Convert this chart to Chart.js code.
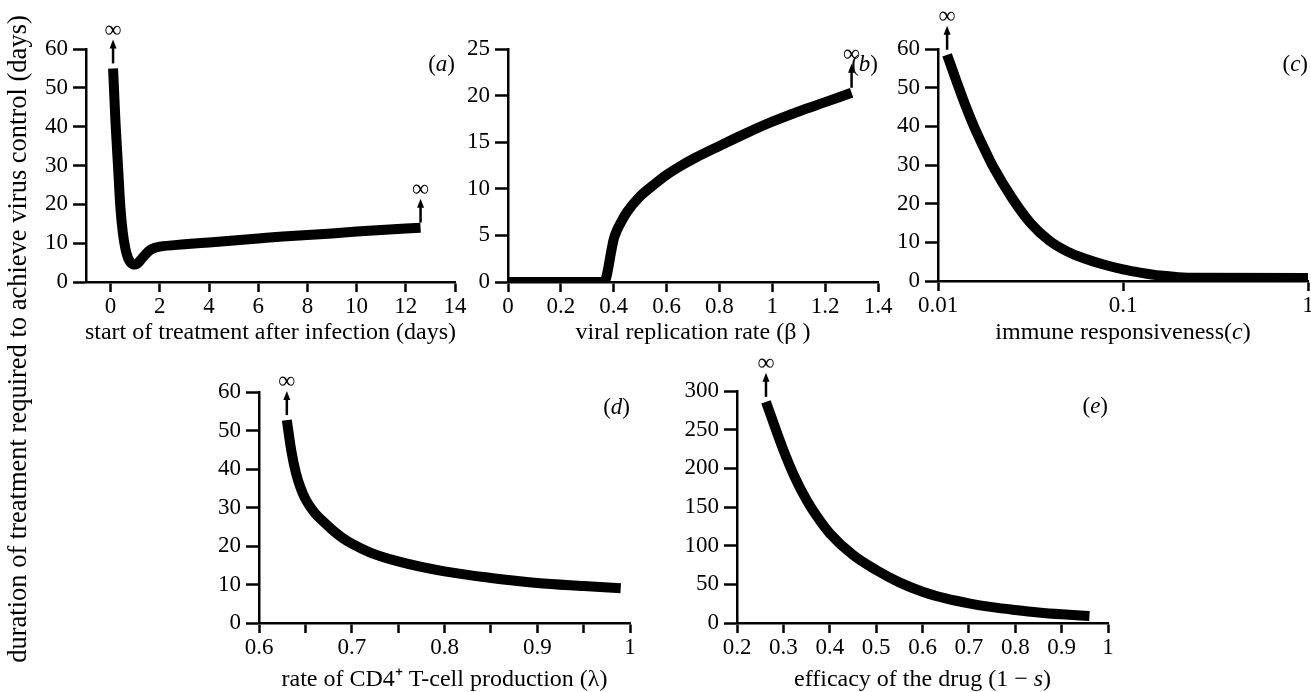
<!DOCTYPE html>
<html lang="en">
<head>
    <meta charset="UTF-8">
    <title>Duration of treatment required to achieve virus control</title>
    <script src="https://cdn.jsdelivr.net/npm/chart.js"></script>
    <style>
        html, body {
            margin: 0;
            padding: 0;
            background: #fff;
            overflow: hidden;
        }
        #page {
            position: relative;
            width: 1311px;
            height: 692px;
        }
        canvas {
            position: absolute;
        }
    </style>
</head>
<body>
    <div id="page">
        <canvas id="ytitle" width="40" height="692" style="left:0;top:0"></canvas>
    </div>

    <script>
        const Y_TITLE = 'duration of treatment required to achieve virus control (days)';

        // (a) start of treatment after infection
        const aX = [0.1, 0.15, 0.2, 0.3, 0.4, 0.5, 0.6, 0.7, 0.8, 0.9, 1.0, 1.1, 1.2, 1.4, 1.6, 1.8, 2, 3, 4, 5, 6, 7, 8, 9, 10, 11, 12, 12.6];
        const aY = [55, 48, 41, 30, 19, 12.5, 8.6, 6.3, 5.1, 4.6, 4.5, 4.8, 5.5, 7, 8.2, 8.8, 9.1, 9.7, 10.2, 10.7, 11.2, 11.7, 12.1, 12.5, 13.0, 13.4, 13.8, 14.0];
        const aXTicks = [0, 2, 4, 6, 8, 10, 12, 14];
        const aYTicks = [0, 10, 20, 30, 40, 50, 60];

        // (b) viral replication rate
        const bX = [0, 0.1, 0.2, 0.3, 0.36, 0.37, 0.38, 0.39, 0.4, 0.41, 0.42, 0.45, 0.5, 0.55, 0.6, 0.65, 0.7, 0.8, 0.9, 1.0, 1.1, 1.2, 1.3];
        const bY = [0, 0, 0, 0, 0, 0.3, 1.6, 3.2, 4.6, 5.4, 6.0, 7.5, 9.2, 10.4, 11.5, 12.4, 13.2, 14.6, 15.95, 17.2, 18.3, 19.3, 20.3];
        const bXTicks = [0, 0.2, 0.4, 0.6, 0.8, 1, 1.2, 1.4];
        const bYTicks = [0, 5, 10, 15, 20, 25];

        // (c) immune responsiveness (log axis)
        const cX = [0.0112, 0.0126, 0.0141, 0.0158, 0.0178, 0.02, 0.0251, 0.0316, 0.0398, 0.0501, 0.0631, 0.0794, 0.1, 0.1259, 0.1585, 0.1995, 0.2512, 1];
        const cY = [58.5, 51.6, 45.3, 39.5, 34.2, 29.3, 21.5, 15.0, 10.5, 7.6, 5.7, 4.2, 3.0, 2.1, 1.4, 1.0, 0.85, 0.8];
        const cXTicks = [0.01, 0.1, 1];
        const cYTicks = [0, 10, 20, 30, 40, 50, 60];

        // (d) rate of CD4+ T-cell production
        const dX = [0.63, 0.635, 0.64, 0.645, 0.65, 0.66, 0.67, 0.68, 0.69, 0.7, 0.72, 0.75, 0.8, 0.85, 0.9, 0.95, 0.99];
        const dY = [52.7, 44.5, 38.8, 35.0, 32.2, 28.6, 26.2, 24.0, 22.1, 20.6, 18.3, 16.0, 13.4, 11.7, 10.4, 9.6, 9.0];
        const dXTicks = [0.6, 0.65, 0.7, 0.75, 0.8, 0.85, 0.9, 0.95, 1];
        const dXLabels = ['0.6', '', '0.7', '', '0.8', '', '0.9', '', '1'];
        const dYTicks = [0, 10, 20, 30, 40, 50, 60];

        // (e) efficacy of the drug
        const eX = [0.2625, 0.3, 0.325, 0.35, 0.375, 0.4, 0.45, 0.5, 0.55, 0.6, 0.65, 0.7, 0.75, 0.8, 0.85, 0.9, 0.96];
        const eY = [286, 223.7, 188, 159, 135.5, 116, 88, 68.5, 52.5, 40.5, 31.8, 25.4, 20.5, 16.8, 13.6, 11.2, 9];
        const eXTicks = [0.2, 0.3, 0.4, 0.5, 0.6, 0.7, 0.8, 0.9, 1];
        const eYTicks = [0, 50, 100, 150, 200, 250, 300];

        const SERIF = "'Liberation Serif', 'Times New Roman', serif";

        // chart area boxes in page pixels; titles are [text, italic] runs
        const panels = [
            { letter: 'a', area: [86, 49, 455, 282], bottom: 345, xType: 'linear', xMin: -1, xMax: 14, yMax: 60,
              xs: aX, ys: aY, xTicks: aXTicks, yTicks: aYTicks, infinity: [0, aX.length - 1],
              xTitle: [['start of treatment after infection (days)', false]] },
            { letter: 'b', area: [508, 49, 878, 282], bottom: 345, xType: 'linear', xMin: 0, xMax: 1.4, yMax: 25,
              xs: bX, ys: bY, xTicks: bXTicks, yTicks: bYTicks, infinity: [bX.length - 1],
              xTitle: [['viral replication rate (\u03b2 )', false]] },
            { letter: 'c', area: [938, 49, 1308, 281], bottom: 345, xType: 'logarithmic', xMin: 0.01, xMax: 1, yMax: 60,
              xs: cX, ys: cY, xTicks: cXTicks, yTicks: cYTicks, infinity: [0],
              xTitle: [['immune responsiveness(', false], ['c', true], [')', false]] },
            { letter: 'd', area: [259, 392, 630, 623], bottom: 692, xType: 'linear', xMin: 0.6, xMax: 1, yMax: 60,
              xs: dX, ys: dY, xTicks: dXTicks, xLabels: dXLabels, yTicks: dYTicks, infinity: [0],
              xTitle: [['rate of CD4\u207a T-cell production (\u03bb)', false]] },
            { letter: 'e', area: [737, 391, 1108, 623], bottom: 692, xType: 'linear', xMin: 0.2, xMax: 1, yMax: 300,
              xs: eX, ys: eY, xTicks: eXTicks, yTicks: eYTicks, infinity: [0],
              xTitle: [['efficacy of the drug (1 \u2212 ', false], ['s', true], [')', false]] }
        ];

        const Y_W = 60, PAD_T = 50, PAD_R = 30;

        // write runs of upright / italic text so that the whole line is centred (or right-aligned) at x
        function drawRuns(ctx, runs, x, y, size, align) {
            const widths = runs.map(([t, it]) => {
                ctx.font = (it ? 'italic ' : '') + size + 'px ' + SERIF;
                return ctx.measureText(t).width;
            });
            const total = widths.reduce((s, w) => s + w, 0);
            let cx = align === 'right' ? x - total : x - total / 2;
            ctx.textAlign = 'left';
            ctx.textBaseline = 'middle';
            runs.forEach(([t, it], i) => {
                ctx.font = (it ? 'italic ' : '') + size + 'px ' + SERIF;
                ctx.fillText(t, cx, y);
                cx += widths[i];
            });
        }

        // draws the ∞ arrows at chosen curve ends, the (a)..(e) labels and the axis title
        const markPlugin = {
            id: 'marks',
            afterDraw(chart, args, opts) {
                const ctx = chart.ctx;
                const xs = chart.scales.x, ys = chart.scales.y;
                const pts = chart.data.datasets[0].data;
                const area = chart.chartArea;
                ctx.save();
                ctx.fillStyle = '#000';
                ctx.strokeStyle = '#000';
                opts.infinity.forEach(i => {
                    const px = xs.getPixelForValue(pts[i].x);
                    const py = ys.getPixelForValue(pts[i].y);
                    ctx.lineWidth = 2.5;
                    ctx.beginPath();
                    ctx.moveTo(px, py - 5);
                    ctx.lineTo(px, py - 22);
                    ctx.stroke();
                    ctx.beginPath();
                    ctx.moveTo(px, py - 29);
                    ctx.lineTo(px - 3.5, py - 20);
                    ctx.lineTo(px + 3.5, py - 20);
                    ctx.closePath();
                    ctx.fill();
                    ctx.font = '24px ' + SERIF;
                    ctx.textAlign = 'center';
                    ctx.textBaseline = 'middle';
                    ctx.fillText('\u221e', px, py - 38);
                });
                drawRuns(ctx, [['(', false], [opts.letter, true], [')', false]], area.right, area.top + 16, 23, 'right');
                drawRuns(ctx, opts.title, (area.left + area.right) / 2, chart.height - 12, 24, 'center');
                ctx.restore();
            }
        };

        function axisStyle(tickLength) {
            return {
                border: { display: true, color: '#000', width: 2.5 },
                grid: { display: true, drawOnChartArea: false, drawTicks: true, tickLength: tickLength, tickWidth: 2.5, tickColor: '#000', color: '#000' }
            };
        }

        function makePanel(p) {
            const [L, T, R, B] = p.area;
            const left = L - Y_W, top = T - PAD_T;
            const width = R + PAD_R - left, height = p.bottom - top;
            const canvas = document.createElement('canvas');
            canvas.width = width;
            canvas.height = height;
            canvas.style.left = left + 'px';
            canvas.style.top = top + 'px';
            canvas.style.width = width + 'px';
            canvas.style.height = height + 'px';
            document.getElementById('page').appendChild(canvas);

            const xLabels = p.xLabels || p.xTicks.map(String);

            new Chart(canvas.getContext('2d'), {
                type: 'line',
                data: {
                    datasets: [{
                        data: p.xs.map((x, i) => ({ x: x, y: p.ys[i] })),
                        borderColor: '#000',
                        borderWidth: 10,
                        borderCapStyle: 'butt',
                        borderJoinStyle: 'round',
                        cubicInterpolationMode: 'monotone',
                        pointRadius: 0,
                        fill: false
                    }]
                },
                options: {
                    responsive: false,
                    animation: false,
                    devicePixelRatio: 1,
                    layout: { padding: { left: 0, top: PAD_T, right: PAD_R, bottom: 0 } },
                    plugins: {
                        legend: { display: false },
                        tooltip: { enabled: false },
                        marks: { infinity: p.infinity, letter: p.letter, title: p.xTitle }
                    },
                    scales: {
                        x: Object.assign(axisStyle(10), {
                            type: p.xType,
                            position: 'bottom',
                            min: p.xMin,
                            max: p.xMax,
                            afterBuildTicks: s => { s.ticks = p.xTicks.map(v => ({ value: v })); },
                            afterFit: s => { s.height = p.bottom - B; },
                            ticks: {
                                color: '#000', padding: 1, autoSkip: false, maxRotation: 0,
                                font: { family: SERIF, size: 23, lineHeight: 1.2 },
                                callback: (v, i) => xLabels[i]
                            }
                        }),
                        y: Object.assign(axisStyle(13), {
                            type: 'linear',
                            min: 0,
                            max: p.yMax,
                            afterBuildTicks: s => { s.ticks = p.yTicks.map(v => ({ value: v })); },
                            afterFit: s => { s.width = Y_W; },
                            ticks: {
                                color: '#000', padding: 5,
                                font: { family: SERIF, size: 23 },
                                callback: v => String(v)
                            }
                        })
                    }
                },
                plugins: [markPlugin]
            });
        }

        function drawYTitle() {
            const ctx = document.getElementById('ytitle').getContext('2d');
            ctx.save();
            ctx.translate(19, 339);
            ctx.rotate(-Math.PI / 2);
            ctx.font = '26.5px ' + SERIF;
            ctx.fillStyle = '#000';
            ctx.textAlign = 'center';
            ctx.textBaseline = 'middle';
            ctx.fillText(Y_TITLE, 0, 0);
            ctx.restore();
        }

        window.onload = () => {
            drawYTitle();
            panels.forEach(makePanel);
        };
    </script>
</body>
</html>
